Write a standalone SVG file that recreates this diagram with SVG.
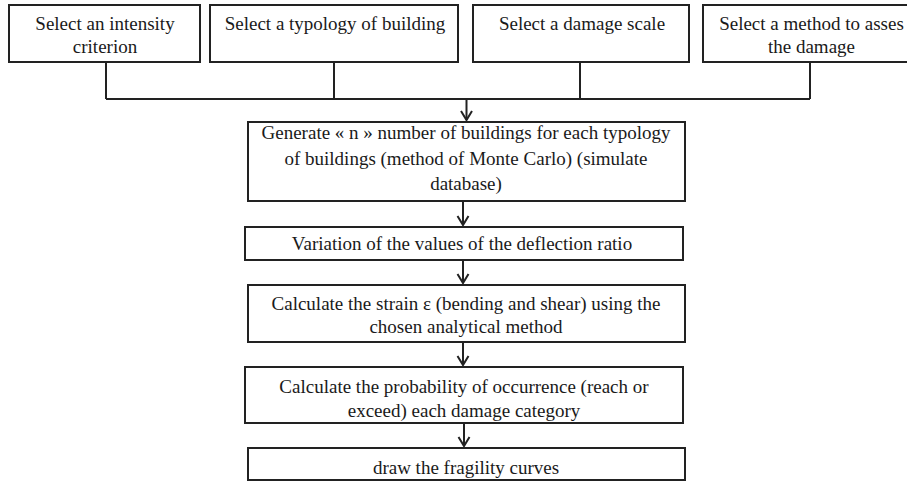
<svg xmlns="http://www.w3.org/2000/svg" width="907" height="481" viewBox="0 0 907 481">
<defs>
<style>
.box{fill:#fff;stroke:#222;stroke-width:2}
.t{font-family:"Liberation Serif",Tinos,"Times New Roman",Times,"Noto Serif","DejaVu Serif",serif;font-size:19px;fill:#1a1a1a;text-anchor:middle}
.c{fill:none;stroke:#222;stroke-width:2}
</style>
<marker id="arr" markerUnits="userSpaceOnUse" markerWidth="14" markerHeight="14" viewBox="-11 -7 14 14" refX="0" refY="0" orient="auto">
<path d="M-9,-5.5 L0,0 L-9,5.5" fill="none" stroke="#222" stroke-width="2"/>
</marker>
</defs>
<rect width="907" height="481" fill="#fff"/>
<g id="connectors">
<path class="c" d="M106,62 V99 M334,62 V99 M580,62 V99 M810,62 V99 M106,99 H810"/>
<path class="c" d="M466.5,99 V120" marker-end="url(#arr)"/>
<path class="c" d="M463,201 V225" marker-end="url(#arr)"/>
<path class="c" d="M463,260 V283" marker-end="url(#arr)"/>
<path class="c" d="M463,342 V365" marker-end="url(#arr)"/>
<path class="c" d="M464,423 V446" marker-end="url(#arr)"/>
</g>
<g id="n1"><rect class="box" x="9" y="5" width="191" height="57"/><text class="t" x="105" y="30">Select an intensity</text><text class="t" x="105" y="53">criterion</text></g>
<g id="n2"><rect class="box" x="210" y="5" width="248" height="57"/><text class="t" x="335" y="30">Select a typology of building</text></g>
<g id="n3"><rect class="box" x="473" y="5" width="216" height="57"/><text class="t" x="582" y="30">Select a damage scale</text></g>
<g id="n4"><rect class="box" x="703" y="5" width="217" height="57"/><text class="t" x="811.5" y="30">Select a method to asses</text><text class="t" x="811.5" y="53">the damage</text></g>
<g id="n5"><rect class="box" x="248" y="122" width="437" height="79"/><text class="t" x="466" y="139">Generate « n » number of buildings for each typology</text><text class="t" x="466" y="165">of buildings (method of Monte Carlo) (simulate</text><text class="t" x="466" y="190">database)</text></g>
<g id="n6"><rect class="box" x="245" y="227" width="438" height="33"/><text class="t" x="462" y="250">Variation of the values of the deflection ratio</text></g>
<g id="n7"><rect class="box" x="248" y="285" width="437" height="57"/><text class="t" x="466" y="310">Calculate the strain ε (bending and shear) using the</text><text class="t" x="466" y="333">chosen analytical method</text></g>
<g id="n8"><rect class="box" x="245" y="367" width="438" height="56"/><text class="t" x="464" y="393">Calculate the probability of occurrence (reach or</text><text class="t" x="464" y="417">exceed) each damage category</text></g>
<g id="n9"><rect class="box" x="248" y="448" width="437" height="32"/><text class="t" x="466" y="474">draw the fragility curves</text></g>
</svg>
